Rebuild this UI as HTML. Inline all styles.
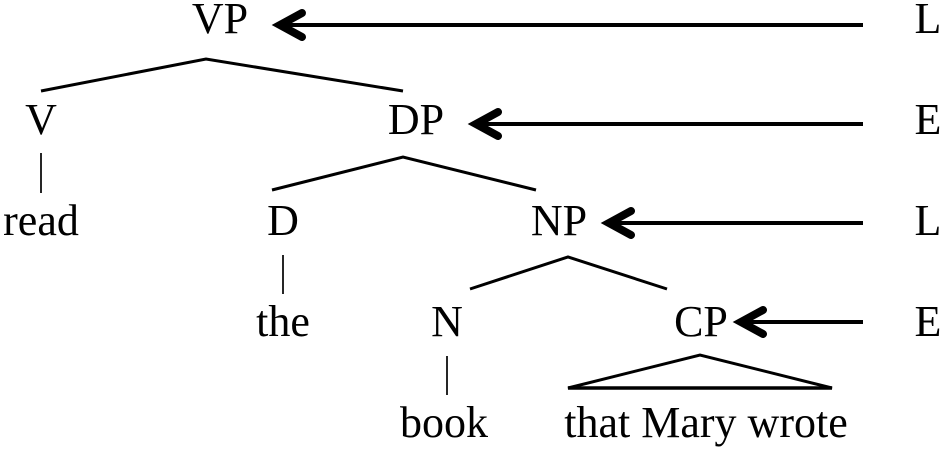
<!DOCTYPE html>
<html><head><meta charset="utf-8"><style>html,body{margin:0;padding:0;background:#fff}svg{display:block}text{font-family:"Liberation Serif",serif;font-size:44px;fill:#000;text-anchor:middle}</style></head><body>
<svg width="945" height="450" viewBox="0 0 945 450" xmlns="http://www.w3.org/2000/svg">
<text x="220" y="33">VP</text>
<text x="41" y="134">V</text>
<text x="416" y="134">DP</text>
<text x="41" y="235">read</text>
<text x="283" y="235">D</text>
<text x="559" y="235">NP</text>
<text x="283" y="336">the</text>
<text x="447" y="336">N</text>
<text x="701" y="336">CP</text>
<text x="444" y="437">book</text>
<text x="706" y="437">that Mary wrote</text>
<text x="928" y="33">L</text>
<text x="928" y="134">E</text>
<text x="928" y="235">L</text>
<text x="928" y="336">E</text>
<g fill="none" stroke="#000" stroke-width="3">
<polyline points="41,91 206,59 403,91"/>
<polyline points="272,190 403,157 536,190"/>
<polyline points="470,289 568,257 667,289"/>
<path d="M568,388 L700,355 L832,388 Z" stroke-linejoin="miter"/>
<line x1="568" y1="388" x2="832" y2="388" stroke-width="3.5"/>
</g>
<g stroke="#000" stroke-width="1.7">
<line x1="41" y1="153" x2="41" y2="193"/>
<line x1="283" y1="255" x2="283" y2="294"/>
<line x1="447" y1="356" x2="447" y2="395"/>
</g>
<g stroke="#000" stroke-width="4" fill="none">
<line x1="282" y1="25" x2="863" y2="25"/>
<line x1="478" y1="124" x2="863" y2="124"/>
<line x1="610" y1="223" x2="863" y2="223"/>
<line x1="742" y1="322" x2="863" y2="322"/>
</g>
<g stroke="#000" stroke-width="8" fill="none" stroke-linecap="round" stroke-linejoin="miter">
<polyline points="302,13 280,25 302,37"/>
<polyline points="498,112 476,124 498,136"/>
<polyline points="631,211 609,223 631,235"/>
<polyline points="763,310 741,322 763,334"/>
</g>
</svg>
</body></html>
